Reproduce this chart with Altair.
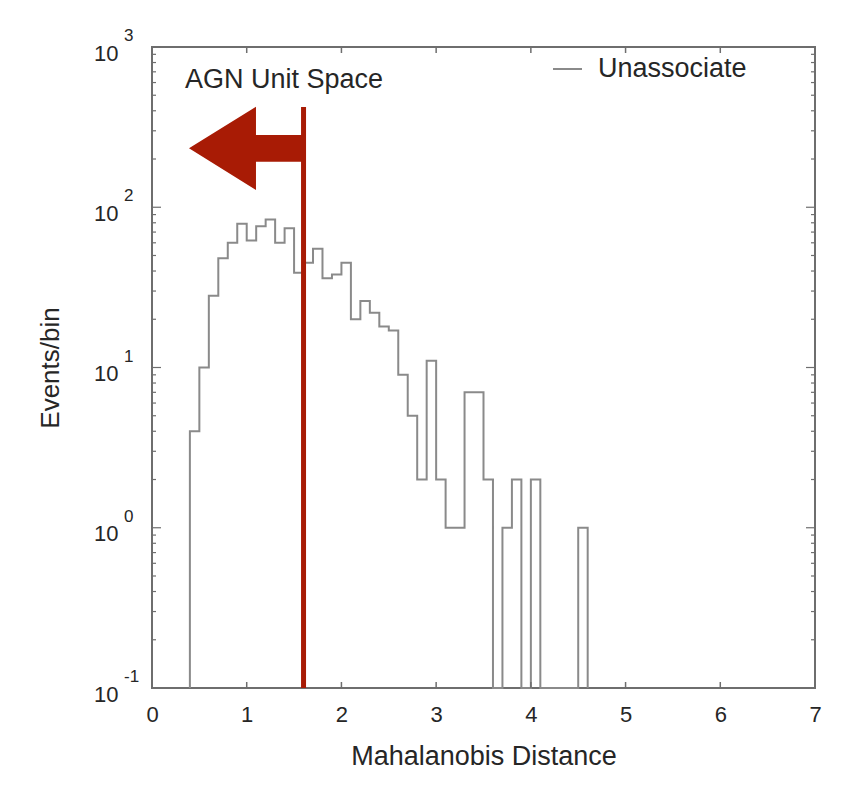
import altair as alt
import pandas as pd

# ---- data ----
bin_left = [0.4, 0.5, 0.6, 0.7, 0.8, 0.9, 1.0, 1.1, 1.2, 1.3, 1.4, 1.5, 1.6, 1.7,
            1.8, 1.9, 2.0, 2.1, 2.2, 2.3, 2.4, 2.5, 2.6, 2.7, 2.8, 2.9, 3.0, 3.1,
            3.2, 3.3, 3.4, 3.5, 3.6, 3.7, 3.8, 3.9, 4.0, 4.1, 4.2, 4.3, 4.4, 4.5]
counts = [4, 10, 28, 48, 60, 79, 62, 76, 84, 60, 74, 39, 45, 55,
          36, 38, 45, 20, 26, 22, 18, 17, 9, 5, 2, 11, 2, 1,
          1, 7, 7, 2, 0, 1, 2, 0, 2, 0, 0, 0, 0, 1]
bin_width = 0.1
threshold = [1.6]
x_ticks = [0, 1, 2, 3, 4, 5, 6, 7]
y_major = [0.1, 1, 10, 100, 1000]
y_exp = ["-1", "0", "1", "2", "3"]
y_minor = [m * d for d in [0.1, 1, 10, 100] for m in range(2, 10)]

W, H = 663, 641
FONT = "Liberation Sans"
GRAY = "#8a8a8a"
RED = "#a81b05"
TXT = "#262626"
floor = 0.1

# step outline points
rows = [{"x": bin_left[0], "y": floor, "i": 0}]
for k, (x0, c) in enumerate(zip(bin_left, counts)):
    rows.append({"x": x0, "y": max(c, floor), "i": k + 1})
rows.append({"x": round(bin_left[-1] + bin_width, 1), "y": floor, "i": len(counts) + 1})
hist = pd.DataFrame(rows)

xs = alt.Scale(domain=[0, 7], nice=False)
ys = alt.Scale(type="log", domain=[0.1, 1000], nice=False)

line = alt.Chart(hist).mark_line(interpolate="step-after", color=GRAY, strokeWidth=2).encode(
    x=alt.X("x:Q", scale=xs, title="Mahalanobis Distance",
            axis=alt.Axis(values=x_ticks, ticks=False, domain=False, grid=False,
                          labelFlush=False,
                          labelFontSize=22, labelPadding=16, labelFont=FONT, labelColor=TXT,
                          titleFont=FONT, titleFontSize=27, titleFontWeight="normal",
                          titleColor=TXT, titlePadding=18, format="d")),
    y=alt.Y("y:Q", scale=ys, title="Events/bin",
            axis=alt.Axis(values=y_major, ticks=False, domain=False, grid=False,
                          labelExpr="'10'", labelFontSize=22, labelPadding=34,
                          labelFont=FONT, labelColor=TXT, labelOffset=6, labelFlush=False,
                          titleFont=FONT, titleFontSize=26, titleFontWeight="normal",
                          titleColor=TXT, titlePadding=30)),
    order="i:Q",
)

exp_df = pd.DataFrame({"y": y_major, "e": y_exp})
exps = alt.Chart(exp_df).mark_text(align="left", baseline="middle", fontSize=17, font=FONT,
                                   color=TXT, dy=-11).encode(
    x=alt.value(-28), y=alt.Y("y:Q", scale=ys), text="e:N")

xt = pd.DataFrame({"x": x_ticks})
xt_bot = alt.Chart(xt).mark_rule(color="#6e6e6e", strokeWidth=1.5).encode(
    x=alt.X("x:Q", scale=xs), y=alt.value(H), y2=alt.value(H - 6))
xt_top = alt.Chart(xt).mark_rule(color="#6e6e6e", strokeWidth=1.5).encode(
    x=alt.X("x:Q", scale=xs), y=alt.value(0), y2=alt.value(6))

ymj = pd.DataFrame({"y": y_major})
ymn = pd.DataFrame({"y": y_minor})
def yticks(df, x0, x1):
    return alt.Chart(df).mark_rule(color="#6e6e6e", strokeWidth=1.2).encode(
        y=alt.Y("y:Q", scale=ys), x=alt.value(x0), x2=alt.value(x1))

tick_layers = [yticks(ymj, 0, 9), yticks(ymj, W, W - 9),
               yticks(ymn, 0, 4), yticks(ymn, W, W - 4)]

thr = alt.Chart(pd.DataFrame({"x": threshold})).mark_rule(color=RED, strokeWidth=5).encode(
    x=alt.X("x:Q", scale=xs), y=alt.value(60), y2=alt.value(H))

one = pd.DataFrame({"a": [0]})
arrow_path = "M -1 0 L 0.175 -0.73 L 0.175 -0.234 L 1 -0.234 L 1 0.234 L 0.175 0.234 L 0.175 0.73 Z"
arrow = alt.Chart(one).mark_point(shape=arrow_path, filled=True, size=12996, color=RED,
                                  opacity=1, strokeWidth=0).encode(
    x=alt.value(94), y=alt.value(101.3))

agn = alt.Chart(one).mark_text(text="AGN Unit Space", align="left", baseline="middle",
                               fontSize=27, font=FONT, color=TXT).encode(
    x=alt.value(33), y=alt.value(33))

leg_line = alt.Chart(one).mark_rule(color=GRAY, strokeWidth=2).encode(
    x=alt.value(401), x2=alt.value(430), y=alt.value(22))
leg_text = alt.Chart(one).mark_text(text="Unassociate", align="left", baseline="middle",
                                    fontSize=27, font=FONT, color=TXT).encode(
    x=alt.value(446), y=alt.value(22))

chart = alt.layer(line, exps, xt_bot, xt_top, *tick_layers, thr, arrow, agn,
                  leg_line, leg_text).properties(
    width=W, height=H,
    autosize=alt.AutoSizeParams(type="none"),
    padding={"left": 144, "top": 39, "right": 30, "bottom": 84},
    background="white",
).configure_view(stroke="#6e6e6e", strokeWidth=2)

chart.save("out.html", embed_options={"renderer": "svg", "actions": False})
